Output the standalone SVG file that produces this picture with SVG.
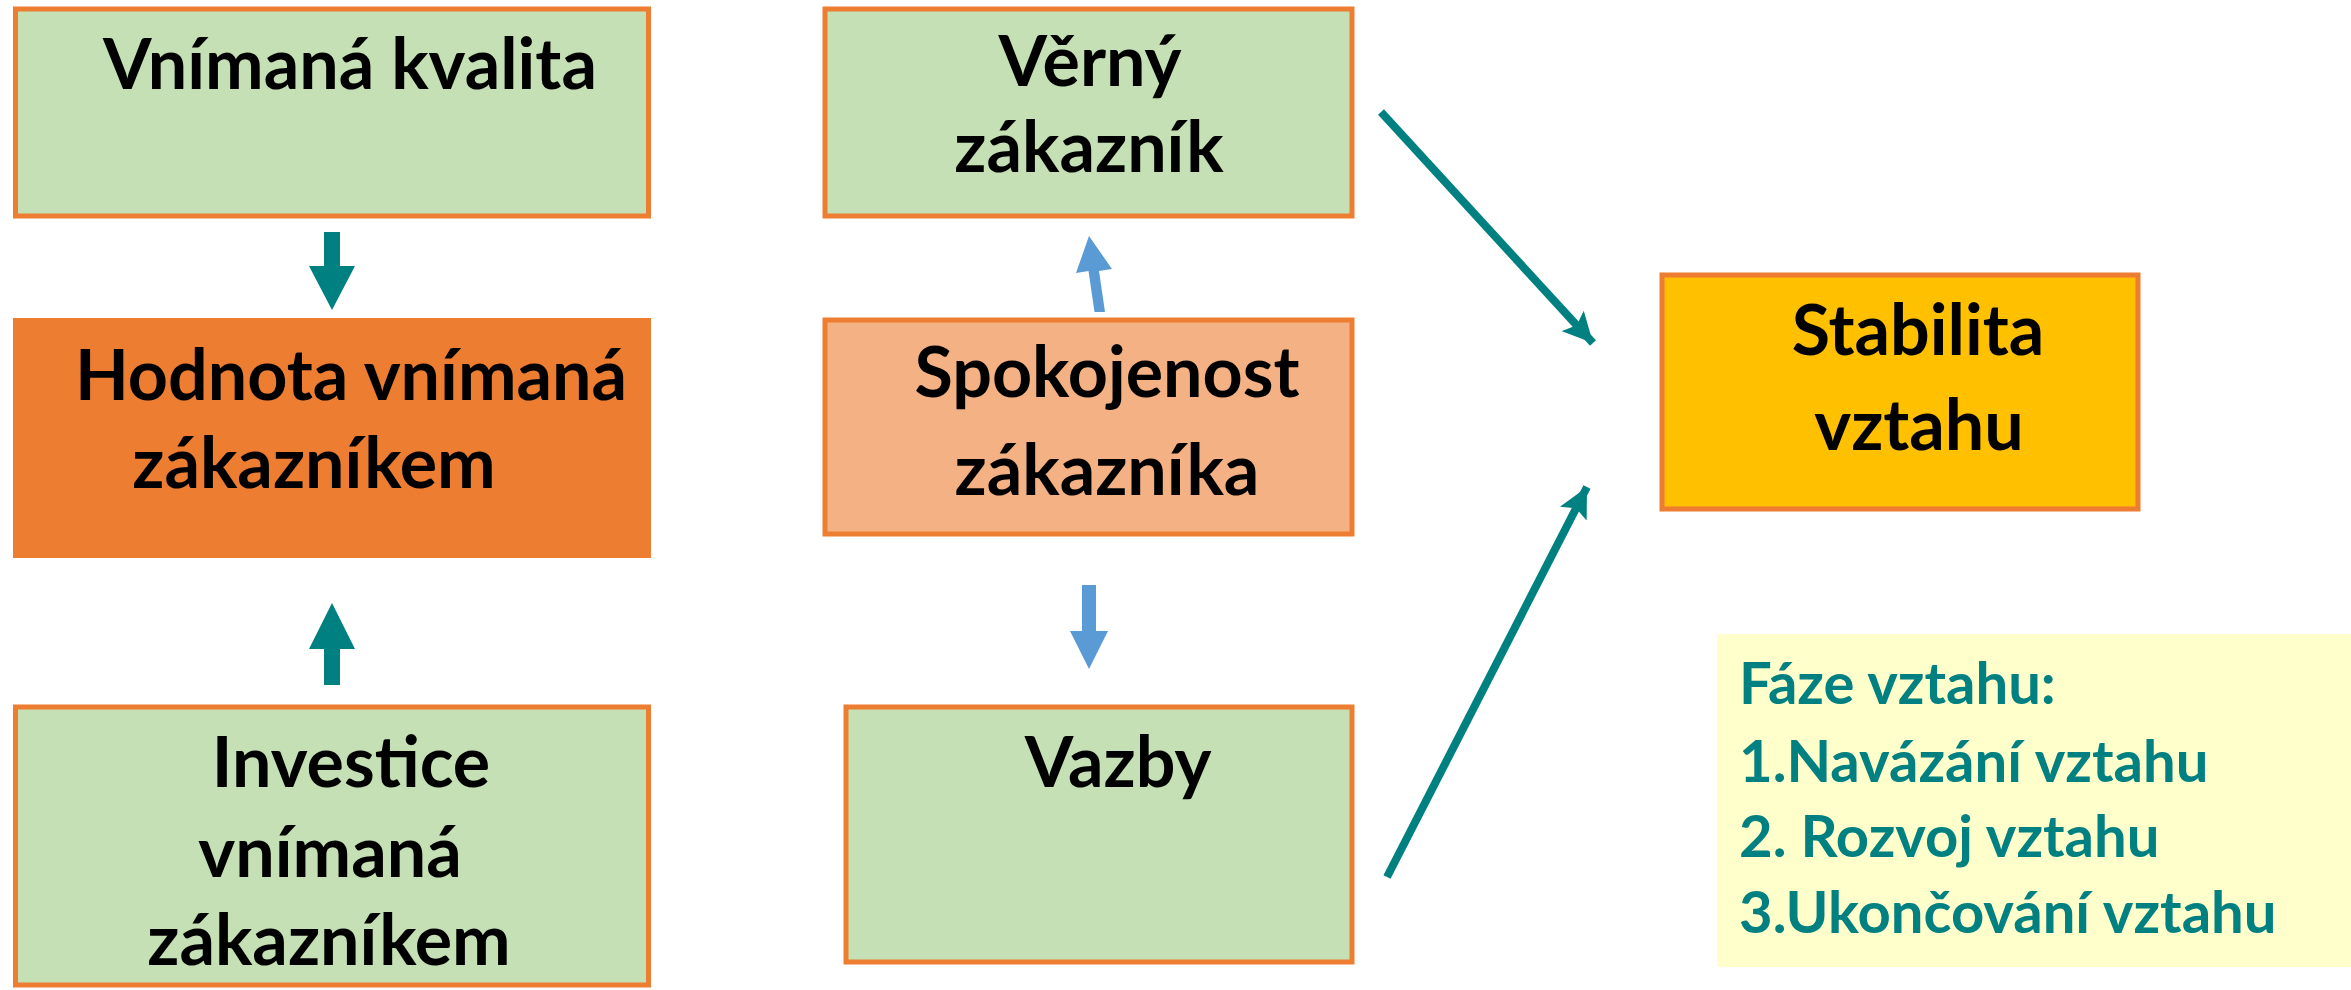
<svg xmlns="http://www.w3.org/2000/svg" width="2351" height="990" viewBox="0 0 2351 990">
<style>
.box{stroke:#ED7D31;stroke-width:5}
.green{fill:#C5E0B4}
.t{font-family:Lato,"Liberation Sans",sans-serif;font-weight:bold;font-size:70px;fill:#000;text-anchor:middle}
.ph{font-family:Lato,"Liberation Sans",sans-serif;font-weight:bold;font-size:58px;fill:#008080}
.teal{stroke:#008080;stroke-width:8;fill:none}
</style>
<defs>
<marker id="ah" markerUnits="userSpaceOnUse" markerWidth="32" markerHeight="30" refX="30" refY="15" orient="auto">
<path d="M0,0 L30,15 L0,30 L6,15 Z" fill="#008080"/>
</marker>
</defs>
<rect width="2351" height="990" fill="#fff"/>
<g id="node-vnimana-kvalita">
<rect class="box green" x="15.5" y="9" width="633" height="207"/>
<text class="t" x="350" y="89">Vnímaná kvalita</text>
</g>
<g id="node-hodnota">
<rect x="13" y="318" width="638" height="240" fill="#ED7D31"/>
<text class="t" x="351" y="400">Hodnota vnímaná</text>
<text class="t" x="314" y="488">zákazníkem</text>
</g>
<g id="node-investice">
<rect class="box green" x="15.5" y="707" width="633" height="278"/>
<text class="t" x="351" y="787">Investice</text>
<text class="t" x="330" y="877">vnímaná</text>
<text class="t" x="329" y="965">zákazníkem</text>
</g>
<g id="node-verny">
<rect class="box green" x="825" y="9" width="527" height="207"/>
<text class="t" x="1090" y="86">Věrný</text>
<text class="t" x="1089" y="172">zákazník</text>
</g>
<g id="node-spokojenost">
<rect class="box" fill="#F4B183" x="825" y="320" width="527" height="214"/>
<text class="t" x="1107" y="397">Spokojenost</text>
<text class="t" x="1107" y="495">zákazníka</text>
</g>
<g id="node-vazby">
<rect class="box green" x="846" y="707" width="506" height="255"/>
<text class="t" x="1118" y="787">Vazby</text>
</g>
<g id="node-stabilita">
<rect class="box" fill="#FFC000" x="1662" y="275" width="476" height="234"/>
<text class="t" x="1918" y="355">Stabilita</text>
<text class="t" x="1919" y="450">vztahu</text>
</g>
<g id="node-faze">
<rect x="1717" y="634" width="634" height="333" fill="#FFFFCC"/>
<text class="ph" x="1739" y="704">Fáze vztahu:</text>
<text class="ph" x="1739" y="782">1.Navázání vztahu</text>
<text class="ph" x="1739" y="857">2. Rozvoj vztahu</text>
<text class="ph" x="1739" y="933">3.Ukončování vztahu</text>
</g>
<g id="connectors">
<polygon fill="#008080" points="324,232 340,232 340,266 355,266 332,310 309,266 324,266"/>
<polygon fill="#008080" points="324,685 340,685 340,649 355,649 332,603 309,649 324,649"/>
<polygon fill="#5B9BD5" points="1094.5,312 1105,312 1099,271 1112,269 1089,236 1076,273 1088.5,271"/>
<polygon fill="#5B9BD5" points="1082,585 1096,585 1096,631 1108,631 1089,669 1070,631 1082,631"/>
<line class="teal" x1="1381" y1="112" x2="1593" y2="343" marker-end="url(#ah)"/>
<line class="teal" x1="1387" y1="877" x2="1587" y2="487" marker-end="url(#ah)"/>
</g>
</svg>
